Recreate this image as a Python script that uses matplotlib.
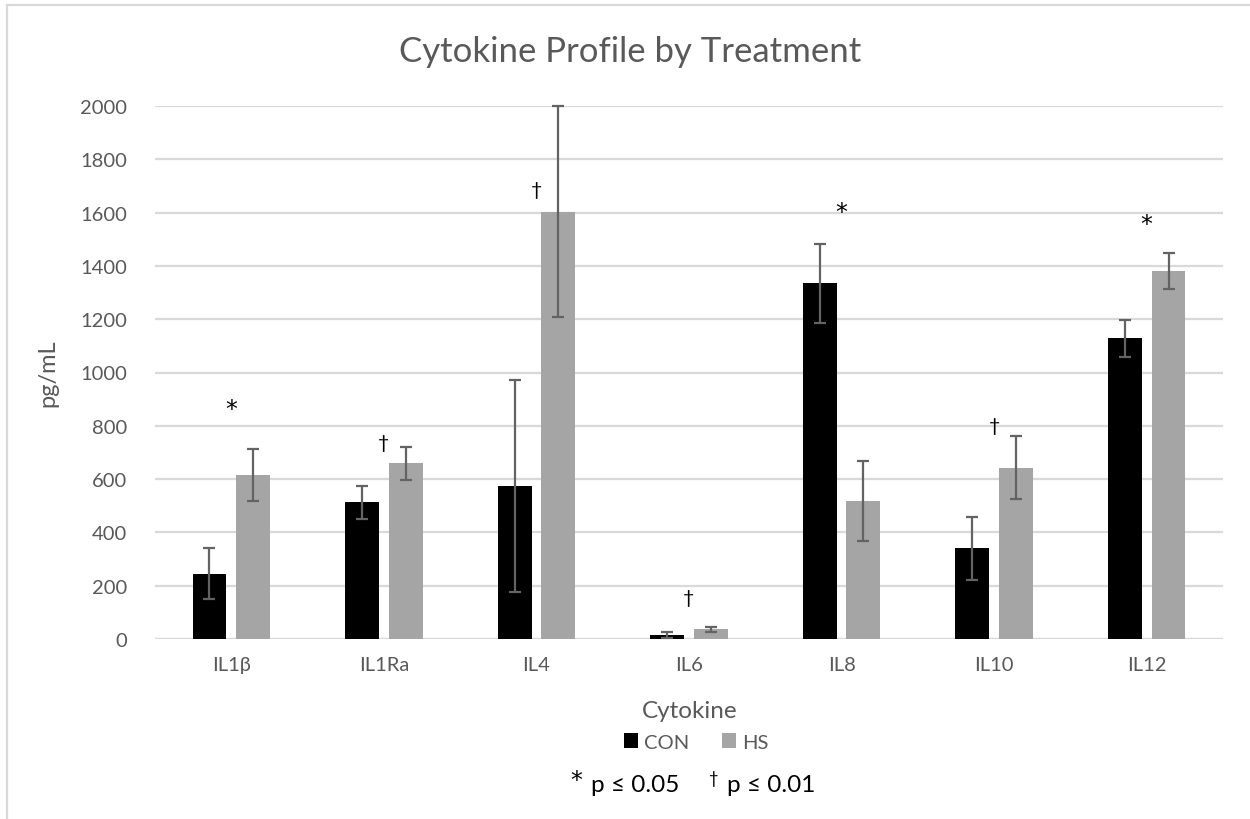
import matplotlib
matplotlib.use("Agg")
import matplotlib.pyplot as plt
import numpy as np
from matplotlib.patches import Patch
from matplotlib.lines import Line2D

plt.rcParams['font.family'] = ['Lato', 'DejaVu Sans']

# Cytokine concentrations (pg/mL), mean and SE for each treatment
cytokines = ["IL1β", "IL1Ra", "IL4", "IL6", "IL8", "IL10", "IL12"]
con_mean = [245, 513, 575, 15, 1335, 340, 1128]
con_err = [95, 62, 397, 11, 148, 118, 69]
hs_mean = [615, 660, 1604, 37, 517, 643, 1380]
hs_err = [98, 62, 396, 9, 150, 118, 67]

# Significance symbols and the height at which each is written
sig_marks = ["*", "†", "†", "†", "*", "†", "*"]
sig_heights = [862, 737, 1688, 155, 1602, 803, 1558]

W, H = 1250, 820
fig = plt.figure(figsize=(W / 100, H / 100), dpi=100)
fig.patch.set_facecolor("white")

# light outline along the left and top edges of the chart area
fig.add_artist(Line2D([7 / W, 7 / W], [0, 1 - 6 / H], transform=fig.transFigure,
                      color="#d9d9d9", lw=1.6))
fig.add_artist(Line2D([7 / W, 1], [1 - 6 / H, 1 - 6 / H], transform=fig.transFigure,
                      color="#d9d9d9", lw=1.6))

left, right = 155, 1223
top, bottom = 107, 640
ax = fig.add_axes([left / W, 1 - bottom / H, (right - left) / W, (bottom - top) / H])

x = np.arange(len(cytokines))
bw = 0.222
off = 0.143
err_kw = dict(ecolor="#636363", elinewidth=1.6, capsize=4.6, capthick=1.6)

ax.bar(x - off, con_mean, bw, color="black", label="CON", zorder=2)
ax.bar(x + off, hs_mean, bw, color="#a5a5a5", label="HS", zorder=2)
e1 = ax.errorbar(x - off, con_mean, yerr=con_err, fmt="none", zorder=3, **err_kw)
e2 = ax.errorbar(x + off, hs_mean, yerr=hs_err, fmt="none", zorder=3, **err_kw)
for e in (e1, e2):
    for art in e.lines[1] + e.lines[2]:
        art.set_clip_on(False)

for xi, m, h in zip(x, sig_marks, sig_heights):
    if m == "*":
        ax.text(xi, h, m, ha="center", va="center", fontsize=17, color="black",
                family="DejaVu Sans")
    else:
        ax.text(xi, h, m, ha="center", va="center", fontsize=14, color="black")

ax.set_xlim(-0.5, len(cytokines) - 0.5)
ax.set_ylim(0, 2000)
ax.set_yticks(np.arange(0, 2001, 200))
ax.set_xticks(x)
ax.set_xticklabels(cytokines)
ax.tick_params(axis="both", length=0, labelsize=14.5, colors="#595959")
ax.tick_params(axis="y", pad=20)
ax.tick_params(axis="x", pad=12)
ax.grid(axis="y", color="#d9d9d9", lw=1.6, zorder=0)
ax.set_axisbelow(True)
for s in ax.spines.values():
    s.set_visible(False)
ax.axhline(0, color="#d9d9d9", lw=1.6, zorder=1)

ax.set_ylabel("pg/mL", fontsize=17, color="#595959", labelpad=16)

fig.text(630 / W, 1 - 52 / H, "Cytokine Profile by Treatment", ha="center", va="center",
         fontsize=25, color="#595959")
fig.text(690 / W, 1 - 712 / H, "Cytokine", ha="center", va="center",
         fontsize=17.5, color="#595959")

handles = [Patch(facecolor="black", label="CON"), Patch(facecolor="#a5a5a5", label="HS")]
fig.legend(handles=handles, loc="center", bbox_to_anchor=(696 / W, 1 - 743 / H), ncol=2,
           frameon=False, fontsize=14.5, handlelength=0.7, handleheight=0.7,
           handletextpad=0.3, columnspacing=1.6, labelcolor="#595959")

# significance key
fig.text(576 / W, 1 - 781 / H, "*", ha="center", va="center", fontsize=17, color="black",
         family="DejaVu Sans")
fig.text(591 / W, 1 - 786 / H, "p ≤ 0.05", ha="left", va="center", fontsize=17.5, color="black")
fig.text(714 / W, 1 - 779 / H, "†", ha="center", va="center", fontsize=12, color="black")
fig.text(727 / W, 1 - 786 / H, "p ≤ 0.01", ha="left", va="center", fontsize=17.5, color="black")

fig.savefig("out.png", dpi=100, facecolor="white")
